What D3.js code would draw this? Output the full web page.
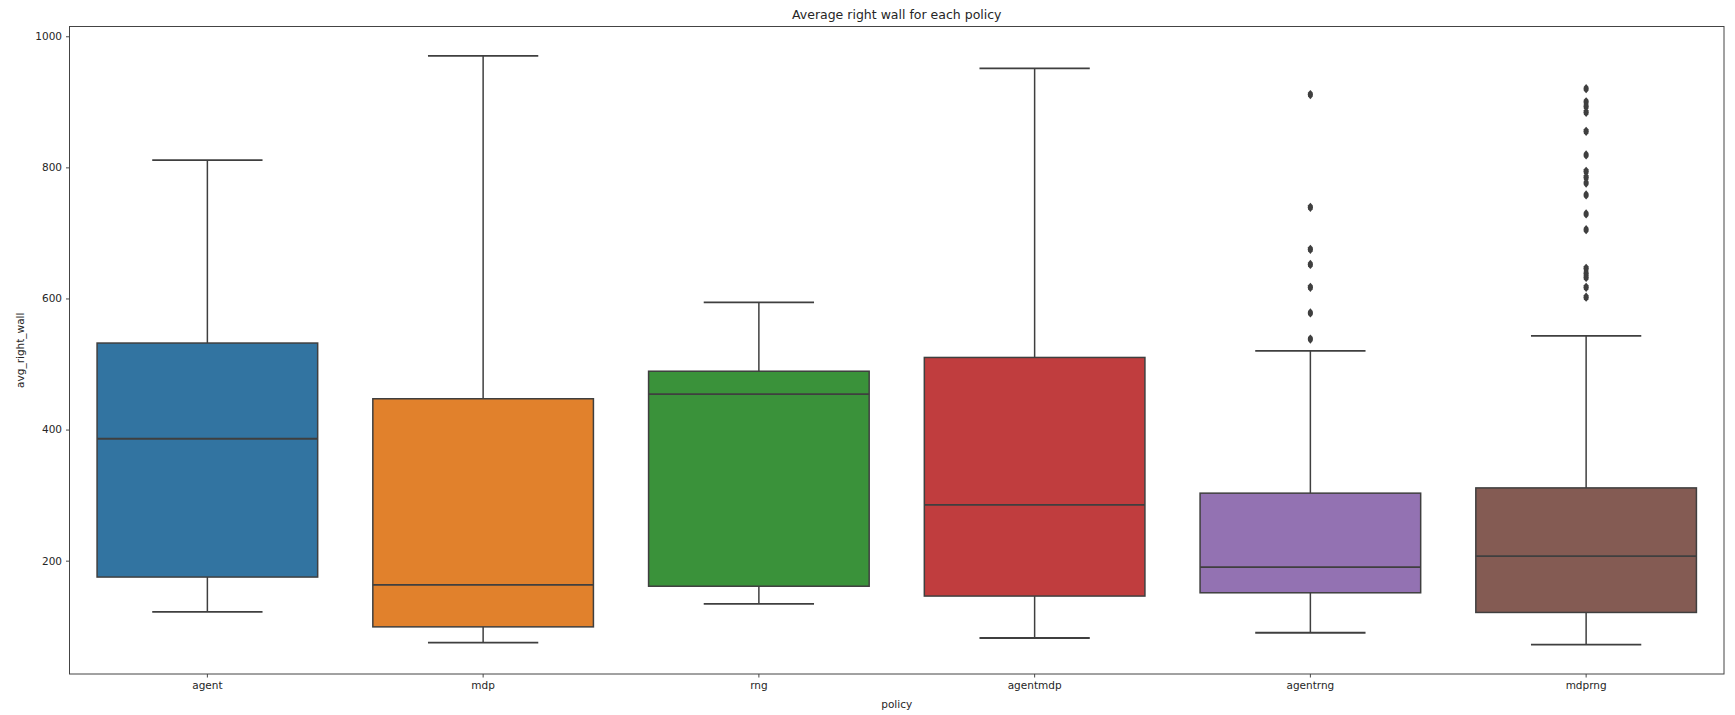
<!DOCTYPE html>
<html>
<head>
<meta charset="utf-8">
<script src="https://cdn.jsdelivr.net/npm/d3@7"></script>
<style>
  html, body { margin: 0; padding: 0; background: #fff; }
  svg { display: block; }
  text { font-family: "DejaVu Sans", sans-serif; fill: #262626; }
</style>
</head>
<body>
<svg id="chart" width="1735" height="715"></svg>
<script>
// Box statistics per policy
const policies = ["agent", "mdp", "rng", "agentmdp", "agentrng", "mdprng"];
const whiskerLow  = [122, 75, 134, 82, 90, 72];
const q1          = [175, 99, 161, 146, 151, 121];
const medians     = [386, 163, 454, 285, 190, 207];
const q3          = [532, 447, 489, 510, 303, 311];
const whiskerHigh = [811, 970, 594, 951, 520, 543];
const colors = ["#3274a1", "#e1812c", "#3a923a", "#c03d3e", "#9372b2", "#845b53"];

// Outlying observations per policy
const outliers = [
  [],
  [],
  [],
  [],
  [911, 739, 675, 652, 617, 578, 538],
  [920, 900, 893, 884, 855, 819, 794, 785, 776, 758, 729, 705, 646, 638, 632, 617, 602]
];
const yTicks = [200, 400, 600, 800, 1000];

const margin = { left: 69.5, right: 11, top: 26.5, bottom: 41 };
const W = 1735, H = 715;
const svg = d3.select("#chart");

const x = d3.scaleBand()
  .domain(policies)
  .range([margin.left, W - margin.right])
  .paddingInner(0).paddingOuter(0);

const allVals = whiskerLow.concat(whiskerHigh, outliers.flat());
const lo = d3.min(allVals), hi = d3.max(allVals);
const pad = (hi - lo) * 0.05;
const y = d3.scaleLinear()
  .domain([lo - pad, hi + pad])
  .range([H - margin.bottom, margin.top]);

const line = "#3f3f3f";
const boxW = x.bandwidth() * 0.8;
const capW = boxW * 0.5;

const g = svg.append("g");

policies.forEach((p, i) => {
  const cx = x(p) + x.bandwidth() / 2;
  const grp = g.append("g");
  // whiskers
  grp.append("line")
    .attr("x1", cx).attr("x2", cx)
    .attr("y1", y(q3[i])).attr("y2", y(whiskerHigh[i]))
    .attr("stroke", line).attr("stroke-width", 1.5);
  grp.append("line")
    .attr("x1", cx).attr("x2", cx)
    .attr("y1", y(q1[i])).attr("y2", y(whiskerLow[i]))
    .attr("stroke", line).attr("stroke-width", 1.5);
  // caps
  [whiskerHigh[i], whiskerLow[i]].forEach(v => {
    grp.append("line")
      .attr("x1", cx - capW / 2).attr("x2", cx + capW / 2)
      .attr("y1", y(v)).attr("y2", y(v))
      .attr("stroke", line).attr("stroke-width", 1.8);
  });
  // box
  grp.append("rect")
    .attr("x", cx - boxW / 2)
    .attr("y", y(q3[i]))
    .attr("width", boxW)
    .attr("height", y(q1[i]) - y(q3[i]))
    .attr("fill", colors[i])
    .attr("stroke", line).attr("stroke-width", 1.5);
  // median
  grp.append("line")
    .attr("x1", cx - boxW / 2).attr("x2", cx + boxW / 2)
    .attr("y1", y(medians[i])).attr("y2", y(medians[i]))
    .attr("stroke", line).attr("stroke-width", 1.8);
  // fliers as thin diamonds
  grp.selectAll("path.flier")
    .data(outliers[i])
    .enter().append("path")
    .attr("class", "flier")
    .attr("d", "M0,-4.6L2.3,-2L2.6,0L2.3,2L0,4.6L-2.3,2L-2.6,0L-2.3,-2Z")
    .attr("transform", v => `translate(${cx},${y(v)})`)
    .attr("fill", line);
});

// axes
const xAxis = svg.append("g")
  .attr("transform", `translate(0,${H - margin.bottom})`)
  .call(d3.axisBottom(x).tickSize(3.5).tickPadding(4));
const yAxis = svg.append("g")
  .attr("transform", `translate(${margin.left},0)`)
  .call(d3.axisLeft(y).tickValues(yTicks).tickFormat(d3.format("d")).tickSize(3.5).tickPadding(4));

[xAxis, yAxis].forEach(a => {
  a.select(".domain").remove();
  a.selectAll(".tick line").attr("stroke", "#333").attr("stroke-width", 0.9);
  a.selectAll(".tick text").attr("font-size", 10.5).attr("fill", "#262626")
    .attr("font-family", "DejaVu Sans, sans-serif");
});

// frame
svg.append("rect")
  .attr("x", margin.left).attr("y", margin.top)
  .attr("width", W - margin.left - margin.right)
  .attr("height", H - margin.top - margin.bottom)
  .attr("fill", "none").attr("stroke", "#444").attr("stroke-width", 1);

// labels
svg.append("text")
  .attr("x", margin.left + (W - margin.left - margin.right) / 2)
  .attr("y", 19)
  .attr("text-anchor", "middle")
  .attr("font-size", 12.5)
  .text("Average right wall for each policy");

svg.append("text")
  .attr("x", margin.left + (W - margin.left - margin.right) / 2)
  .attr("y", 708)
  .attr("text-anchor", "middle")
  .attr("font-size", 10.5)
  .text("policy");

svg.append("text")
  .attr("transform", `translate(24,${margin.top + (H - margin.top - margin.bottom) / 2}) rotate(-90)`)
  .attr("text-anchor", "middle")
  .attr("font-size", 10.5)
  .text("avg_right_wall");
</script>
</body>
</html>
